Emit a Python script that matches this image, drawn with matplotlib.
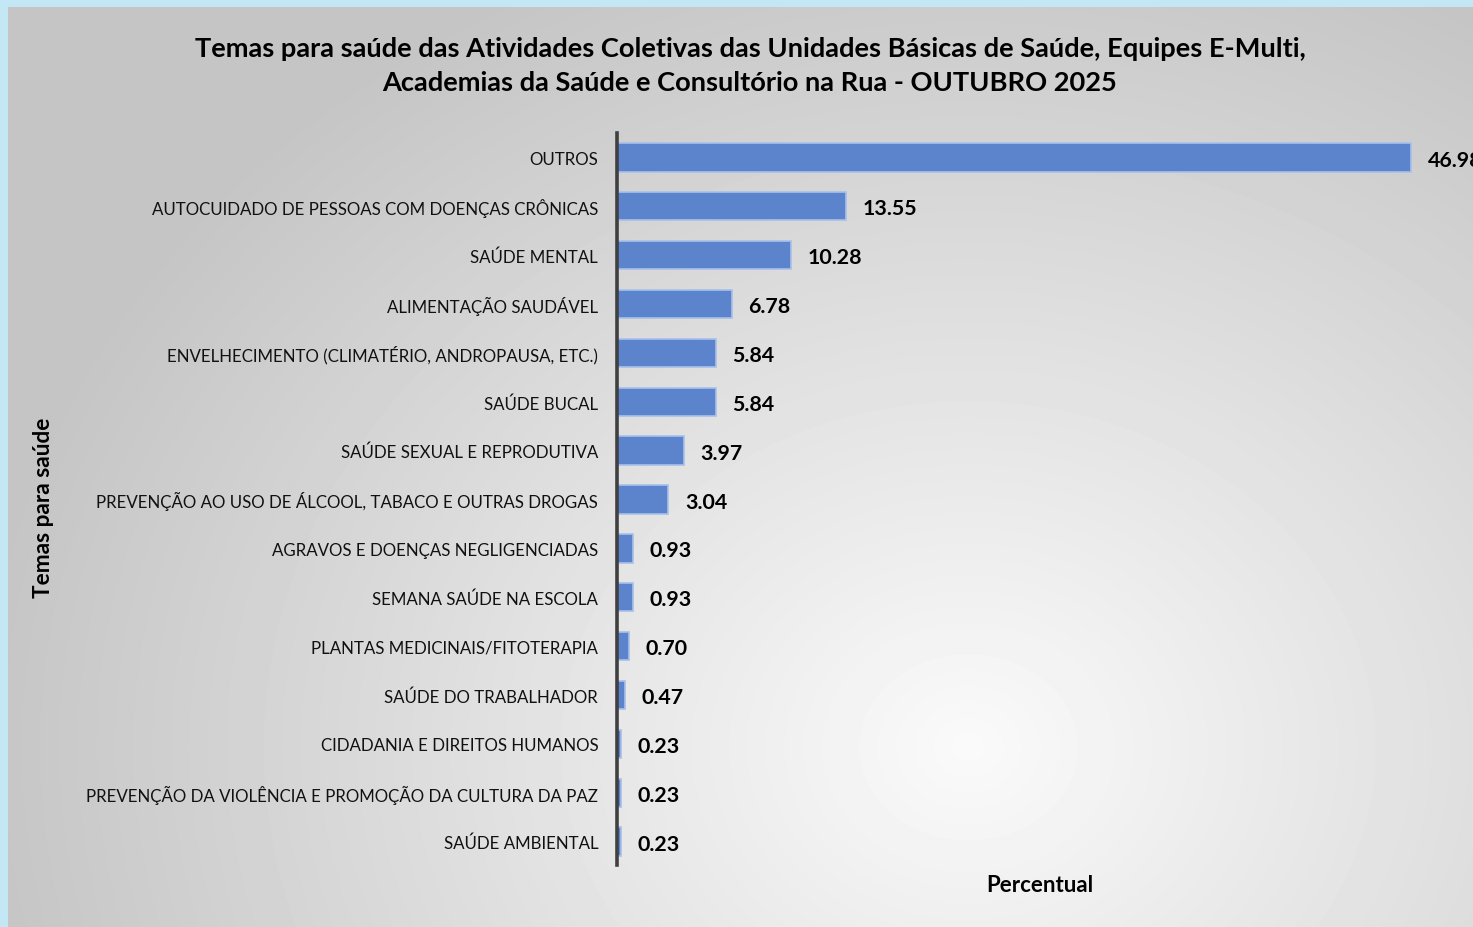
import numpy as np
import matplotlib.pyplot as plt

temas = [
    "OUTROS",
    "AUTOCUIDADO DE PESSOAS COM DOENÇAS CRÔNICAS",
    "SAÚDE MENTAL",
    "ALIMENTAÇÃO SAUDÁVEL",
    "ENVELHECIMENTO (CLIMATÉRIO, ANDROPAUSA, ETC.)",
    "SAÚDE BUCAL",
    "SAÚDE SEXUAL E REPRODUTIVA",
    "PREVENÇÃO AO USO DE ÁLCOOL, TABACO E OUTRAS DROGAS",
    "AGRAVOS E DOENÇAS NEGLIGENCIADAS",
    "SEMANA SAÚDE NA ESCOLA",
    "PLANTAS MEDICINAIS/FITOTERAPIA",
    "SAÚDE DO TRABALHADOR",
    "CIDADANIA E DIREITOS HUMANOS",
    "PREVENÇÃO DA VIOLÊNCIA E PROMOÇÃO DA CULTURA DA PAZ",
    "SAÚDE AMBIENTAL",
]
percentual = [46.98, 13.55, 10.28, 6.78, 5.84, 5.84, 3.97, 3.04,
              0.93, 0.93, 0.70, 0.47, 0.23, 0.23, 0.23]

titulo = ("Temas para saúde das Atividades Coletivas das Unidades Básicas de Saúde, Equipes E-Multi,\n"
          "Academias da Saúde e Consultório na Rua - OUTUBRO 2025")

plt.rcParams['font.family'] = ['Lato', 'DejaVu Sans']

W, H = 1473, 928
fig = plt.figure(figsize=(W / 100, H / 100), dpi=100)
fig.patch.set_facecolor('#c4e7f5')

# gray panel with radial gradient
bg = fig.add_axes([8 / W, 0, 1 - 8 / W, 1 - 8 / H])
yy, xx = np.mgrid[0:920, 0:1465]
d = np.sqrt(((xx - 960) / 1000) ** 2 + ((yy - 740) / 850) ** 2)
d = np.clip(d, 0, 1)
val = 0.98 - 0.21 * d
bg.imshow(val, cmap='gray', vmin=0, vmax=1, aspect='auto', interpolation='bilinear')
bg.axis('off')

x0 = 617
ax = fig.add_axes([x0 / W, 1 - 866 / H, 1 - x0 / W, (866 - 134) / H])
ax.patch.set_alpha(0)
pos = np.arange(len(temas))
ax.barh(pos, percentual, height=0.58, color='#5b84cd', edgecolor='#a8c0ea', linewidth=1.2)
ax.set_xlim(0, (W - x0) / ((1411 - x0) / percentual[0]))
ax.set_ylim(14.48, -0.5)
ax.set_yticks(pos)
ax.set_yticklabels(temas, fontsize=12.15, color='#111111')
ax.tick_params(axis='y', length=0, pad=13.5)
ax.set_xticks([])
for s in ['top', 'right', 'bottom']:
    ax.spines[s].set_visible(False)
ax.spines['left'].set_color('#404040')
ax.spines['left'].set_linewidth(2.6)

for p, v in zip(pos, percentual):
    ax.annotate(f"{v:.2f}", (v, p), xytext=(12, -1.5), textcoords='offset points',
                ha='left', va='center', fontsize=15.4, fontweight='bold', color='black',
                annotation_clip=False)

fig.text(750 / W, 1 - 66 / H, titulo, ha='center', va='center', fontsize=19.6,
         fontweight='bold', linespacing=1.5)
fig.text(1040 / W, 1 - 886 / H, "Percentual", ha='center', va='center',
         fontsize=16, fontweight='bold')
fig.text(44 / W, 1 - 508 / H, "Temas para saúde", ha='center', va='center',
         fontsize=16.3, fontweight='bold', rotation=90)

fig.savefig('out.png', dpi=100, facecolor=fig.get_facecolor())
